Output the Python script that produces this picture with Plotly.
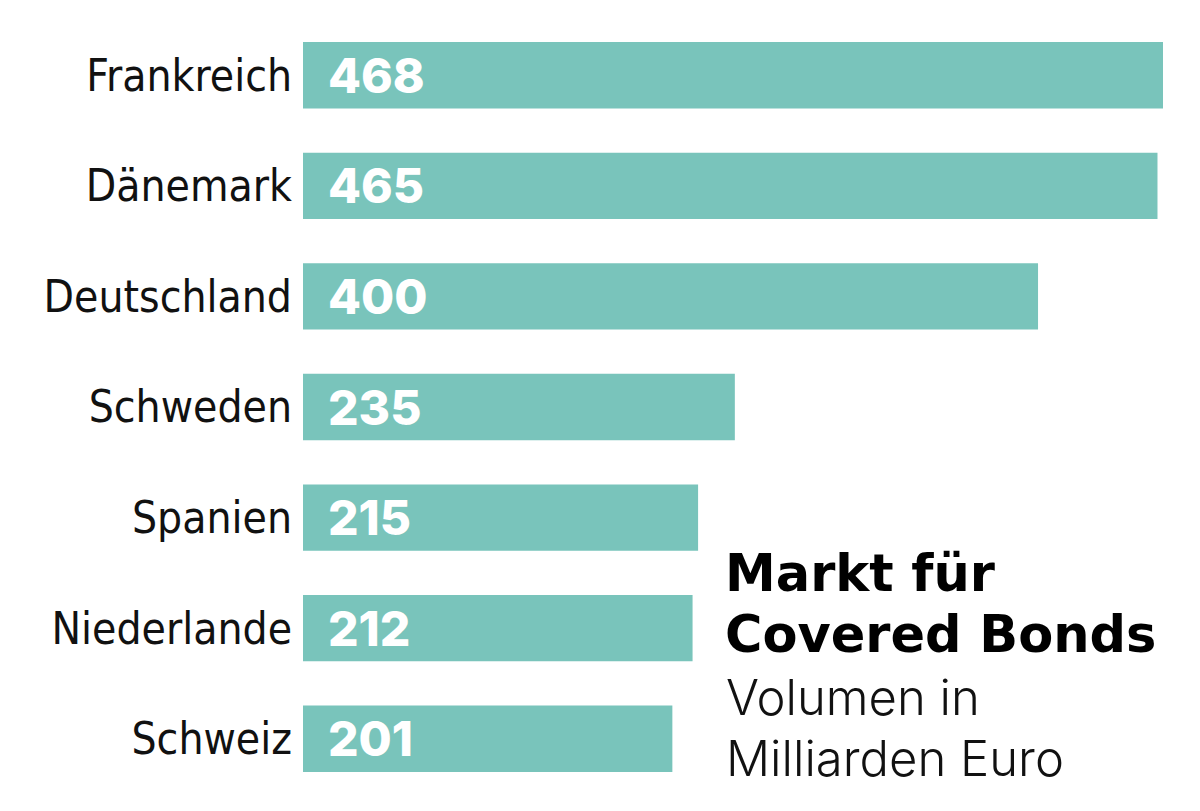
import plotly.graph_objects as go

countries = ["Frankreich", "Dänemark", "Deutschland", "Schweden", "Spanien", "Niederlande", "Schweiz"]
volumes = [468, 465, 400, 235, 215, 212, 201]
title_bold = ["Markt für", "Covered Bonds"]
title_light = ["Volumen in", "Milliarden Euro"]

BAR = "#79C4BB"
W, H = 1200, 811
OFF = 8  # page body offset
ML, MR, MT, MB = 303 - OFF, 45, 20 - OFF, 25
PW, PH = W - ML - MR, H - MT - MB

def px_x(px):
    return (px - OFF - ML) / PW

def px_y(py):
    return (H - MB - (py - OFF)) / PH

fig = go.Figure(go.Bar(
    x=volumes, y=countries, orientation="h",
    marker=dict(color=BAR, line=dict(width=0)),
    hoverinfo="skip",
))

for c, v in zip(countries, volumes):
    fig.add_annotation(x=0, y=c, xref="x", yref="y", text=str(v), showarrow=False,
                       xanchor="left", yanchor="middle", xshift=23,
                       font=dict(family="Inter", size=48, color="white", weight=800))

bold_y = [573, 634]
light_y = [697, 758]
for t, yy in zip(title_bold, bold_y):
    fig.add_annotation(x=px_x(723), y=px_y(yy), xref="paper", yref="paper",
                       text=t, showarrow=False, xanchor="left", yanchor="middle",
                       font=dict(family="DejaVu Sans", size=51, color="#000000", weight="bold"))
for t, yy in zip(title_light, light_y):
    fig.add_annotation(x=px_x(724), y=px_y(yy), xref="paper", yref="paper",
                       text=t, showarrow=False, xanchor="left", yanchor="middle",
                       font=dict(family="Inter", size=49, color="#111111", weight=300))

fig.update_layout(
    width=W, height=H,
    margin=dict(l=ML, r=MR, t=MT, b=MB),
    paper_bgcolor="white", plot_bgcolor="white",
    bargap=0.4, showlegend=False,
    xaxis=dict(range=[0, 468], visible=False, fixedrange=True),
    yaxis=dict(autorange="reversed", showgrid=False, zeroline=False, showline=False,
               ticks="", ticklabelstandoff=10,
               tickfont=dict(family="Liberation Sans Narrow, DejaVu Sans Condensed", size=44, color="#111111")),
)

fig.write_html("out.html", config={"displayModeBar": False})
